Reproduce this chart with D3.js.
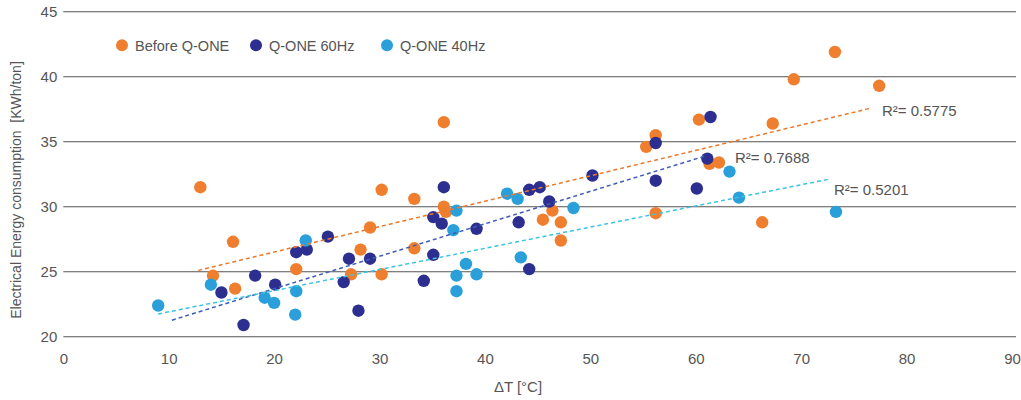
<!DOCTYPE html>
<html>
<head>
<meta charset="utf-8">
<script src="https://cdn.jsdelivr.net/npm/d3@7"></script>
<style>
  html, body { margin: 0; padding: 0; background: #fff; }
  svg { display: block; font-family: "Liberation Sans", Arial, sans-serif; }
</style>
</head>
<body>
<svg id="chart" width="1021" height="400"></svg>
<script>
// ---- Data ----
const seriesNames = ["Before Q-ONE", "Q-ONE 60Hz", "Q-ONE 40Hz"];
const seriesColors = ["#EF7F2F", "#2C2F8F", "#2A9FDA"];
const trendColors = ["#E97A2C", "#3E5DB8", "#3CC3E3"];

const beforeX = [13.0, 16.1, 14.2, 16.3, 22.1, 36.1, 30.2, 33.3, 36.1, 36.3, 29.1, 28.2, 33.3, 27.3, 30.2,
                 46.4, 45.5, 47.2, 47.2, 55.3, 56.2, 56.2, 60.3, 67.3, 69.3, 73.2, 77.4, 61.3, 62.2, 66.3];
const beforeY = [31.5, 27.3, 24.7, 23.7, 25.2, 36.5, 31.3, 30.6, 30.0, 29.6, 28.4, 26.7, 26.8, 24.8, 24.8,
                 29.7, 29.0, 28.8, 27.4, 34.6, 35.5, 29.5, 36.7, 36.4, 39.8, 41.9, 39.3, 33.3, 33.4, 28.8];

const hz60X = [25.1, 22.1, 23.1, 18.2, 15.0, 20.1, 17.1, 36.1, 35.1, 35.9, 39.2, 27.1, 29.1, 35.1, 26.6,
               34.2, 28.0, 44.2, 45.2, 46.1, 50.2, 43.2, 44.2, 56.2, 56.2, 61.4, 61.1, 60.1];
const hz60Y = [27.7, 26.5, 26.7, 24.7, 23.4, 24.0, 20.9, 31.5, 29.2, 28.7, 28.3, 26.0, 26.0, 26.3, 24.2,
               24.3, 22.0, 31.3, 31.5, 30.4, 32.4, 28.8, 25.2, 34.9, 32.0, 36.9, 33.7, 31.4];

const hz40X = [9.0, 14.0, 19.1, 20.0, 22.1, 22.0, 23.0, 37.3, 37.0, 38.2, 37.3, 39.2, 37.3, 42.1, 43.1,
               48.4, 43.4, 63.2, 64.1, 73.3];
const hz40Y = [22.4, 24.0, 23.0, 22.6, 23.5, 21.7, 27.4, 29.7, 28.2, 25.6, 24.7, 24.8, 23.5, 31.0, 30.6,
               29.9, 26.1, 32.7, 30.7, 29.6];

// Linear trendlines: slope, intercept, x-extent
const trendSlope = [0.1955, 0.2496, 0.163];
const trendIntercept = [22.6, 18.7, 20.28];
const trendStart = [12.8, 10.3, 9.0];
const trendEnd = [76.6, 60.8, 72.7];
const r2Labels = ["R\u00B2= 0.5775", "R\u00B2= 0.7688", "R\u00B2= 0.5201"];

const xTicks = [0, 10, 20, 30, 40, 50, 60, 70, 80, 90];
const yTicks = [20, 25, 30, 35, 40, 45];
const xTitle = "\u0394T [\u00B0C]";
const yTitle = "Electrical Energy consumption  [KWh/ton]";

// ---- Layout ----
const svg = d3.select("#chart");
const x = d3.scaleLinear().domain([0, 90]).range([63.3, 1012]);
const y = d3.scaleLinear().domain([20, 45]).range([336.7, 11.7]);
const textColor = "#555";

// grid lines
svg.append("g").selectAll("line").data(yTicks).join("line")
  .attr("x1", x(0)).attr("x2", 1016)
  .attr("y1", d => y(d)).attr("y2", d => y(d))
  .attr("stroke", "#555").attr("stroke-width", 1.1);

// axes (labels only)
const yAxis = svg.append("g").attr("transform", `translate(${x(0)},0)`)
  .call(d3.axisLeft(y).tickValues(yTicks).tickSize(0).tickPadding(6));
const xAxis = svg.append("g").attr("transform", `translate(0,${y(20)})`)
  .call(d3.axisBottom(x).tickValues(xTicks).tickSize(0).tickPadding(17));
[xAxis, yAxis].forEach(g => {
  g.select(".domain").remove();
  g.selectAll("text").attr("fill", textColor).attr("font-size", 15)
    .attr("font-family", "Liberation Sans, Arial, sans-serif");
});

// axis titles
svg.append("text").attr("x", 518).attr("y", 392).attr("text-anchor", "middle")
  .attr("fill", textColor).attr("font-size", 15).text(xTitle);
svg.append("text").attr("transform", "translate(21,190) rotate(-90)")
  .attr("text-anchor", "middle").attr("fill", textColor).attr("font-size", 14)
  .style("white-space", "pre").text(yTitle);

// points
const seriesData = [
  beforeX.map((v, i) => [v, beforeY[i]]),
  hz60X.map((v, i) => [v, hz60Y[i]]),
  hz40X.map((v, i) => [v, hz40Y[i]])
];
seriesData.forEach((pts, s) => {
  svg.append("g").selectAll("circle").data(pts).join("circle")
    .attr("cx", d => x(d[0])).attr("cy", d => y(d[1])).attr("r", 6.2)
    .attr("fill", seriesColors[s]);
});

// trendlines
const line = d3.line().x(d => x(d[0])).y(d => y(d[1]));
trendSlope.forEach((m, s) => {
  const pts = [trendStart[s], trendEnd[s]].map(v => [v, trendIntercept[s] + m * v]);
  svg.append("path").attr("d", line(pts)).attr("fill", "none")
    .attr("stroke", trendColors[s]).attr("stroke-width", 1.5)
    .attr("stroke-dasharray", "4,3");
});

// R² labels
const r2Pos = [[882, 116], [735, 163], [834, 195]];
r2Labels.forEach((t, s) => {
  svg.append("text").attr("x", r2Pos[s][0]).attr("y", r2Pos[s][1])
    .attr("fill", textColor).attr("font-size", 15).text(t);
});

// legend
const legendX = [122, 256, 387];
const legend = svg.append("g");
seriesNames.forEach((name, s) => {
  legend.append("circle").attr("cx", legendX[s]).attr("cy", 45.3).attr("r", 6)
    .attr("fill", seriesColors[s]);
  legend.append("text").attr("x", legendX[s] + 13).attr("y", 50.5)
    .attr("fill", textColor).attr("font-size", 14.5).text(name);
});
</script>
</body>
</html>
